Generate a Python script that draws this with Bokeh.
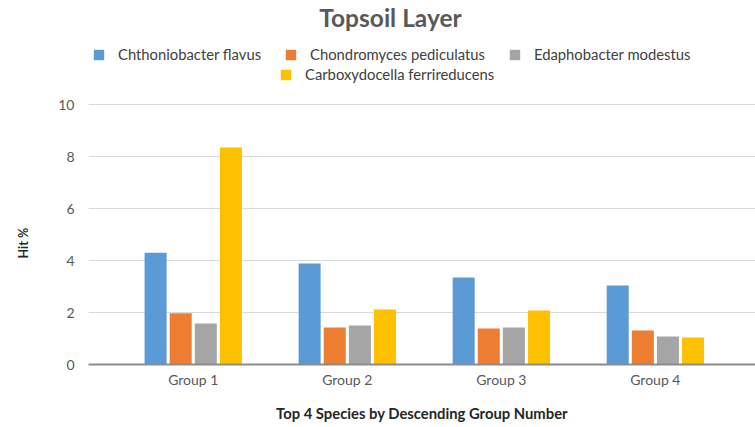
from bokeh.plotting import figure
from bokeh.models import (ColumnDataSource, Range1d, FixedTicker, Legend, LegendItem, Label, Title)
from bokeh.embed import file_html
from bokeh.resources import INLINE

# ---- data ----
groups = ["Group 1", "Group 2", "Group 3", "Group 4"]
series_names = ["Chthoniobacter flavus", "Chondromyces pediculatus",
                "Edaphobacter modestus", "Carboxydocella ferrireducens"]
chthoniobacter = [4.3, 3.88, 3.35, 3.04]
chondromyces = [1.97, 1.42, 1.38, 1.31]
edaphobacter = [1.58, 1.5, 1.42, 1.08]
carboxydocella = [8.35, 2.12, 2.08, 1.04]
y_ticks = [0, 2, 4, 6, 8, 10]

colors = ["#5B9BD5", "#ED7D31", "#A5A5A5", "#FFC000"]
values = [chthoniobacter, chondromyces, edaphobacter, carboxydocella]

FONT = "Lato"

# frame spans the full height above the x axis; the legend and title live inside it
p = figure(width=755, height=427, output_backend="svg", toolbar_location=None,
           x_range=Range1d(-0.18, 4.15), y_range=Range1d(0, 14.0),
           min_border_left=88, min_border_right=0, min_border_top=0,
           min_border_bottom=63, outline_line_color=None,
           background_fill_color="white", border_fill_color="white")

pitch = 0.163
bw = 0.143
renderers = []
for i, (name, vals, col) in enumerate(zip(series_names, values, colors)):
    xs = [g + 0.5 + (i - 1.5) * pitch for g in range(len(groups))]
    src = ColumnDataSource(dict(x=xs, top=vals))
    r = p.vbar(x="x", top="top", bottom=0, width=bw, source=src,
               fill_color=col, line_color=None)
    renderers.append(r)

# axes
p.xaxis.ticker = FixedTicker(ticks=[g + 0.5 for g in range(len(groups))])
p.xaxis.major_label_overrides = {g + 0.5: lab for g, lab in enumerate(groups)}
p.xaxis.major_tick_line_color = None
p.xaxis.minor_tick_line_color = None
p.xaxis.axis_line_color = "#8c8c8c"
p.xaxis.axis_line_width = 2
p.xaxis.major_label_text_font = FONT
p.xaxis.major_label_text_font_size = "14px"
p.xaxis.major_label_text_color = "#595959"
p.xaxis.major_label_standoff = 0
p.xaxis.axis_label = "Top 4 Species by Descending Group Number"
p.xaxis.axis_label_text_font = FONT
p.xaxis.axis_label_text_font_size = "14.8px"
p.xaxis.axis_label_text_font_style = "bold"
p.xaxis.axis_label_text_color = "#262626"
p.xaxis.axis_label_standoff = 13

p.yaxis.ticker = FixedTicker(ticks=y_ticks)
p.yaxis.major_tick_line_color = None
p.yaxis.minor_tick_line_color = None
p.yaxis.axis_line_color = None
p.yaxis.major_label_text_font = FONT
p.yaxis.major_label_text_font_size = "14px"
p.yaxis.major_label_text_color = "#595959"
p.yaxis.major_label_standoff = 8

# spacer between the y axis and its title, then the title beside the 0-10 part
spacer = Title(text=" ", text_font_size="1px", standoff=22)
p.add_layout(spacer, "left")
ytitle = Title(text="Hit %", align="left", offset=106, standoff=0,
               text_font=FONT, text_font_size="12.5px", text_font_style="bold",
               text_color="#262626")
p.add_layout(ytitle, "left")

p.xgrid.grid_line_color = None
p.ygrid.grid_line_color = "#d9d9d9"
p.ygrid.grid_line_width = 1

# chart title
title = Label(x=302, y=347, x_units="screen", y_units="screen", text="Topsoil Layer",
              text_font=FONT, text_font_size="24.5px", text_font_style="bold",
              text_color="#595959", text_align="center", text_baseline="middle")
p.add_layout(title)

# legends
def make_legend(items, loc):
    return Legend(items=items, location=loc, orientation="horizontal",
                  glyph_width=13, glyph_height=13, label_standoff=13, spacing=23,
                  padding=0, margin=0, border_line_color=None,
                  background_fill_alpha=0, label_text_font=FONT,
                  label_text_font_size="14.8px", label_text_color="#404040",
                  label_height=13)

lg1 = make_legend([LegendItem(label=series_names[k], renderers=[renderers[k]]) for k in range(3)], (4, 301))
lg2 = make_legend([LegendItem(label=series_names[3], renderers=[renderers[3]])], (191, 281))
p.add_layout(lg1)
p.add_layout(lg2)

open("out.html", "w").write(file_html(p, INLINE))
